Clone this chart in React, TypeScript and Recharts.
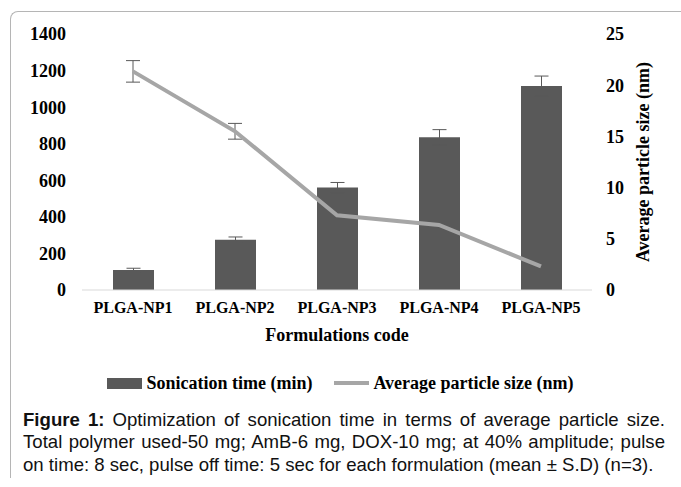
import React from 'react';
import { ComposedChart, Bar, Line, XAxis, YAxis, ErrorBar, Legend } from 'recharts';

const categories = ['PLGA-NP1', 'PLGA-NP2', 'PLGA-NP3', 'PLGA-NP4', 'PLGA-NP5'];
const sonicationTime = [110, 275, 560, 835, 1115];
const sonicationErr = [9, 15, 28, 42, 55];
const particleSize = [21.35, 15.5, 7.3, 6.35, 2.3];
const particleErr = [1.05, 0.77, 0, 0, 0];
const leftTicks = [0, 200, 400, 600, 800, 1000, 1200, 1400];
const rightTicks = [0, 5, 10, 15, 20, 25];

const data = categories.map((name, i) => ({
  name,
  time: sonicationTime[i],
  timeErr: sonicationErr[i],
  size: particleSize[i],
  sizeErr: particleErr[i],
}));

const SERIF = "'Liberation Serif', 'Times New Roman', serif";
const SANS = "'Liberation Sans', Arial, sans-serif";
const BAR_COLOR = '#595959';
const LINE_COLOR = '#a6a6a6';

const tickStyle = { fontSize: 18, fontWeight: 'bold' as const, fill: '#000', fontFamily: SERIF };

const renderLegend = () => (
  <div
    style={{
      display: 'flex',
      justifyContent: 'center',
      alignItems: 'center',
      fontFamily: SERIF,
      fontWeight: 'bold',
      fontSize: 18,
      color: '#000',
      height: 22,
      whiteSpace: 'nowrap',
    }}
  >
    <div style={{ width: 35, height: 11, background: BAR_COLOR, marginRight: 4 }} />
    <span>Sonication time (min)</span>
    <div style={{ width: 35, height: 4, background: LINE_COLOR, marginLeft: 22, marginRight: 4 }} />
    <span>Average particle size (nm)</span>
  </div>
);

export default function App() {
  return (
    <div style={{ position: 'absolute', left: 0, top: 0, width: 681, height: 487, background: '#fff', overflow: 'hidden' }}>
      <div
        style={{
          position: 'absolute',
          left: 10,
          top: 11,
          width: 720,
          height: 466,
          borderLeft: '1px solid #b5b5b5',
          borderTop: '1px solid #b5b5b5',
          borderTopLeftRadius: 8,
        }}
      />
      <div style={{ position: 'absolute', left: 0, top: 0 }}>
        <ComposedChart width={681} height={487} data={data} margin={{ top: 34, right: 0, bottom: 0, left: 0 }}>
          <XAxis
            dataKey="name"
            height={197}
            tickLine={false}
            tickSize={0}
            tickMargin={12}
            axisLine={{ stroke: '#d9d9d9', strokeWidth: 1 }}
            tick={{ ...tickStyle, fontSize: 16 }}
            interval={0}
            label={{
              value: 'Formulations code',
              position: 'insideTop',
              offset: 38,
              style: { fontSize: 18, fontWeight: 'bold', fill: '#000', fontFamily: SERIF },
            }}
          />
          <YAxis
            yAxisId="left"
            orientation="left"
            width={82}
            domain={[0, 1400]}
            ticks={leftTicks}
            tickLine={false}
            axisLine={false}
            tickSize={0}
            tickMargin={16}
            tick={tickStyle}
            interval={0}
          />
          <YAxis
            yAxisId="right"
            orientation="right"
            width={89}
            domain={[0, 25]}
            ticks={rightTicks}
            tickLine={false}
            axisLine={false}
            tickSize={0}
            tickMargin={14}
            tick={tickStyle}
            interval={0}
            label={{
              value: 'Average particle size (nm)',
              angle: -90,
              position: 'center',
              dx: 6,
              style: { fontSize: 18, fontWeight: 'bold', fill: '#000', fontFamily: SERIF, textAnchor: 'middle' },
            }}
          />
          <Legend
            content={renderLegend}
            layout="horizontal"
            align="center"
            verticalAlign="middle"
            wrapperStyle={{ top: 372, left: 0, width: 681, height: 22 }}
          />
          <Bar
            yAxisId="left"
            dataKey="time"
            name="Sonication time (min)"
            fill={BAR_COLOR}
            barSize={41}
            isAnimationActive={false}
          >
            <ErrorBar dataKey="timeErr" width={7} stroke="#595959" strokeWidth={1} direction="y" />
          </Bar>
          <Line
            yAxisId="right"
            type="linear"
            dataKey="size"
            name="Average particle size (nm)"
            stroke={LINE_COLOR}
            strokeWidth={4}
            dot={false}
            activeDot={false}
            isAnimationActive={false}
          >
            <ErrorBar dataKey="sizeErr" width={7} stroke="#595959" strokeWidth={1} direction="y" />
          </Line>
        </ComposedChart>
      </div>
      <div
        style={{
          position: 'absolute',
          left: 23,
          top: 409,
          width: 642,
          fontFamily: SANS,
          fontSize: 18.6,
          lineHeight: '22.4px',
          color: '#111',
        }}
      >
        <div style={{ textAlign: 'justify', textAlignLast: 'justify', whiteSpace: 'nowrap' }}>
          <b>Figure 1:</b> Optimization of sonication time in terms of average particle size.
        </div>
        <div style={{ textAlign: 'justify', textAlignLast: 'justify', whiteSpace: 'nowrap' }}>
          Total polymer used-50 mg; AmB-6 mg, DOX-10 mg; at 40% amplitude; pulse
        </div>
        <div style={{ whiteSpace: 'nowrap' }}>
          on time: 8 sec, pulse off time: 5 sec for each formulation (mean ± S.D) (n=3).
        </div>
      </div>
    </div>
  );
}
